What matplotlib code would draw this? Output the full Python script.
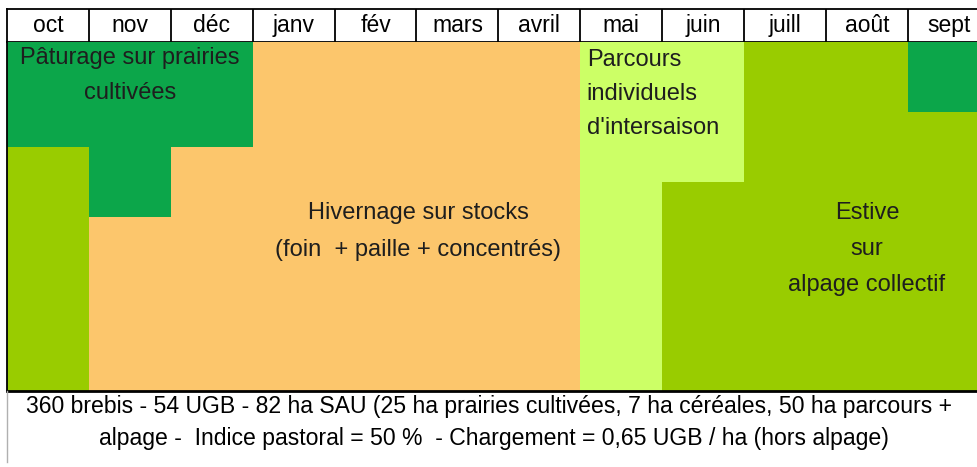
import matplotlib.pyplot as plt
from matplotlib.lines import Line2D

# calendar data: share of each month's column (top -> bottom)
months = ["oct", "nov", "déc", "janv", "fév", "mars", "avril",
          "mai", "juin", "juill", "août", "sept"]
paturage = [0.3, 0.5, 0.3, 0, 0, 0, 0, 0, 0, 0, 0, 0.2]
parcours = [0, 0, 0, 0, 0, 0, 0, 1, 0.4, 0, 0, 0]
hivernage = [0, 0.5, 0.7, 1, 1, 1, 1, 0, 0, 0, 0, 0]
estive = [0.7, 0, 0, 0, 0, 0, 0, 0, 0.6, 1, 1, 0.8]

series = [paturage, parcours, hivernage, estive]
colors = ["#0ca64a", "#ccff66", "#fcc66c", "#99cc00"]

footer = ["360 brebis - 54 UGB - 82 ha SAU (25 ha prairies cultivées, 7 ha céréales, 50 ha parcours +",
          "alpage -  Indice pastoral = 50 %  - Chargement = 0,65 UGB / ha (hors alpage)"]

plt.rcParams['font.family'] = ['Liberation Sans', 'DejaVu Sans']
txt = "#1e1e1e"

W, H = 978, 467
fig = plt.figure(figsize=(W / 100, H / 100), dpi=100)
x0, mw = 7, 81.9

# header row with month names
hx = fig.add_axes([x0 / W, 1 - 42 / H, 12 * mw / W, 33 / H])
hx.set_xlim(0, 12)
hx.set_ylim(0, 1)
for i, m in enumerate(months):
    hx.text(i + 0.5, 0.5, m, ha="center", va="center", fontsize=16.5, color="black")
    if i > 0:
        hx.axvline(i, color="black", lw=1.3)
hx.set_xticks([])
hx.set_yticks([])
for s in hx.spines.values():
    s.set_linewidth(1.3)

# main calendar area
ax = fig.add_axes([x0 / W, 1 - 391 / H, 12 * mw / W, 349 / H])
bottom = [0] * 12
for vals, c in zip(series, colors):
    ax.bar(range(12), vals, width=1, bottom=bottom, align="edge",
           color=c, linewidth=0, antialiased=False)
    bottom = [b + v for b, v in zip(bottom, vals)]
ax.set_xlim(0, 12)
ax.set_ylim(1, 0)
ax.set_xticks([])
ax.set_yticks([])
for s in ax.spines.values():
    s.set_visible(False)
ax.spines["left"].set_visible(True)
ax.spines["left"].set_linewidth(1.3)
ax.spines["bottom"].set_visible(True)
ax.spines["bottom"].set_linewidth(2)

fs = 17
ax.text(1.5, 0.046, "Pâturage sur prairies", ha="center", va="center", fontsize=fs, color=txt)
ax.text(1.5, 0.146, "cultivées", ha="center", va="center", fontsize=fs, color=txt)
for j, line in enumerate(["Parcours", "individuels", "d'intersaison"]):
    ax.text(7.08, 0.052 + j * 0.097, line, ha="left", va="center", fontsize=fs, color=txt)
ax.text(5.02, 0.49, "Hivernage sur stocks", ha="center", va="center", fontsize=fs, color=txt)
ax.text(5.02, 0.596, "(foin  + paille + concentrés)", ha="center", va="center", fontsize=fs, color=txt)
for j, line in enumerate(["Estive", "sur", "alpage collectif"]):
    ax.text(10.5, 0.49 + j * 0.103, line, ha="center", va="center", fontsize=fs, color=txt)

# footer box
fig.add_artist(Line2D([x0 / W, x0 / W], [1 - 391 / H, 1 - 462 / H], color="#b0b0b0", lw=1))
fig.text(489 / W, 1 - 407 / H, footer[0], ha="center", va="center", fontsize=16.6, color="black")
fig.text(494 / W, 1 - 438 / H, footer[1], ha="center", va="center", fontsize=16.6, color="black")

fig.savefig("out.png", dpi=100)
